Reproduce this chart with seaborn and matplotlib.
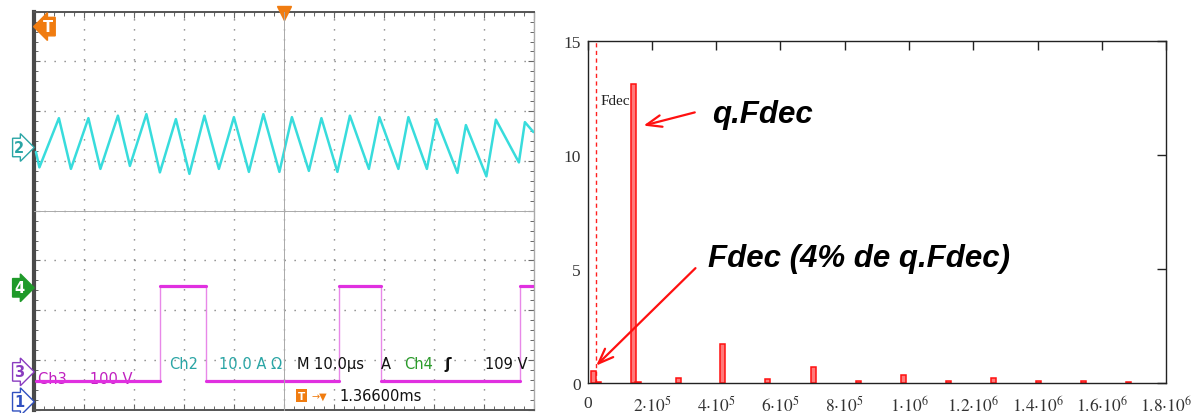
import matplotlib
matplotlib.use('Agg')
import matplotlib.pyplot as plt
import matplotlib.ticker as mticker
import pandas as pd
import seaborn as sns

# ---- oscilloscope traces (time in us, level in divisions) ----
ch2_t = [0.3, 1.0, 4.9, 7.3, 10.8, 13.2, 16.7, 19.1, 22.4, 25.1, 28.3, 31.0, 34.0, 36.9, 39.9,
         42.9, 45.8, 49.0, 51.5, 54.9, 57.4, 60.6, 63.1, 66.9, 69.0, 72.8, 74.8, 78.5, 80.4,
         84.6, 86.3, 90.4, 92.3, 96.9, 98.1, 99.8]
ch2_v = [5.18, 4.87, 5.86, 4.84, 5.86, 4.84, 5.91, 4.90, 5.94, 4.77, 5.84, 4.74, 5.91, 4.84, 5.88,
         4.78, 5.94, 4.78, 5.88, 4.80, 5.86, 4.78, 5.91, 4.84, 5.88, 4.84, 5.88, 4.84, 5.84,
         4.76, 5.72, 4.69, 5.83, 4.97, 5.78, 5.58]

ch4_t = [0.3, 25.2, 25.2, 34.4, 34.4, 61.0, 61.0, 69.4, 69.4, 97.2, 97.2, 99.8]
ch4_v = [0.58, 0.58, 2.48, 2.48, 0.58, 0.58, 2.48, 2.48, 0.58, 0.58, 2.48, 2.48]

# ---- spectrum ----
freq = [18.6e3, 33.5e3, 142e3, 157e3, 282e3, 421e3, 561e3, 703e3, 843e3, 984e3,
        1122e3, 1263e3, 1402e3, 1543e3, 1683e3]
amp = [0.55, 0.07, 13.14, 0.08, 0.25, 1.74, 0.18, 0.72, 0.13, 0.36,
       0.13, 0.24, 0.13, 0.13, 0.08]
fdec_line = 25e3
freq_ticks = [0, 2e5, 4e5, 6e5, 8e5, 1e6, 1.2e6, 1.4e6, 1.6e6, 1.8e6]
freq_labels = ['0', r'$2{\cdot}10^{5}$', r'$4{\cdot}10^{5}$', r'$6{\cdot}10^{5}$',
               r'$8{\cdot}10^{5}$', r'$1{\cdot}10^{6}$', r'$1.2{\cdot}10^{6}$',
               r'$1.4{\cdot}10^{6}$', r'$1.6{\cdot}10^{6}$', r'$1.8{\cdot}10^{6}$']
amp_ticks = [0, 5, 10, 15]

sns.set_theme(style='white')
plt.rcParams['font.family'] = ['DejaVu Sans']
plt.rcParams['mathtext.fontset'] = 'stix'

fig = plt.figure(figsize=(11.92, 4.14), dpi=100)

# ================= oscilloscope =================
scope_rect = [0.02886, 0.008, 0.41946, 0.9614]
ax = fig.add_axes(scope_rect)
ax.set_xlim(0, 100)
ax.set_ylim(0, 8)
ax.xaxis.set_major_locator(mticker.MultipleLocator(10))
ax.yaxis.set_major_locator(mticker.MultipleLocator(1))
ax.xaxis.set_minor_locator(mticker.MultipleLocator(2))
ax.yaxis.set_minor_locator(mticker.MultipleLocator(0.2))
ax.tick_params(which='both', direction='in', top=True, right=True, bottom=True, left=True,
               labelbottom=False, labelleft=False, color='#666')
ax.tick_params(which='major', length=4, width=0.8)
ax.tick_params(which='minor', length=3, width=0.7)
ax.grid(True, which='major', color='#777', lw=1.0, linestyle=(0, (0.9, 6.3)))
for side, (c, w) in {'left': ('#4a4a4a', 3.0), 'top': ('#555', 1.4),
                     'bottom': ('#555', 1.4), 'right': ('#aaa', 1.0)}.items():
    ax.spines[side].set_color(c)
    ax.spines[side].set_linewidth(w)

# centre graticule cross with its own ticks
axc = fig.add_axes(scope_rect, sharex=ax, sharey=ax)
axc.patch.set_visible(False)
for side in ['top', 'right']:
    axc.spines[side].set_visible(False)
for side in ['left', 'bottom']:
    axc.spines[side].set_position(('axes', 0.5))
    axc.spines[side].set_color('#aaa')
    axc.spines[side].set_linewidth(0.7)
axc.tick_params(which='both', direction='inout', length=5, width=0.7, color='#777',
                labelbottom=False, labelleft=False)
axc.grid(False)

# labels drawn under the traces
ax.text(0.7, 0.62, 'Ch3     100 V', color='#c020c0', fontsize=10.5, va='center', zorder=1)

ch2 = pd.DataFrame({'t': ch2_t, 'v': ch2_v})
ch4 = pd.DataFrame({'t': ch4_t, 'v': ch4_v})
ch4['seg'] = (ch4['v'].diff() != 0).cumsum()
sns.lineplot(data=ch2, x='t', y='v', sort=False, estimator=None, color='#38dcdc', lw=1.8,
             ax=ax, zorder=3)
# thin switching edges, thick flat levels
sns.lineplot(data=ch4, x='t', y='v', sort=False, estimator=None, color='#e888e8', lw=1.0,
             ax=ax, zorder=3)
sns.lineplot(data=ch4, x='t', y='v', units='seg', sort=False, estimator=None, color='#e030e0',
             lw=2.3, ax=ax, zorder=3)
ax.set_xlabel('')
ax.set_ylabel('')

txt = dict(fontsize=10.5, va='center', zorder=4)
ax.text(26.9, 0.92, 'Ch2', color='#2aa5a5', **txt)
ax.text(36.9, 0.92, '10.0 A \u03a9', color='#2aa5a5', **txt)
ax.text(52.6, 0.92, 'M 10.0\u00b5s', color='#111', **txt)
ax.text(69.2, 0.92, 'A', color='#111', **txt)
ax.text(73.9, 0.92, 'Ch4', color='#2a9a2a', **txt)
ax.text(82.1, 0.92, '\u0283', color='#111', fontsize=11, fontweight='bold', va='center')
ax.text(90.2, 0.92, '109 V', color='#111', **txt)
ax.text(53.4, 0.28, 'T', color='white', fontsize=7.5, fontweight='bold', va='center', ha='center',
        bbox=dict(boxstyle='square,pad=0.15', fc='#f07c10', ec='none'))
ax.text(55.4, 0.28, '\u2192\u25bc', color='#f07c10', fontsize=7, va='center')
ax.text(61.0, 0.28, '1.36600ms', color='#111', **txt)

# channel / trigger markers
def marker(x, y, s, fc, ec, tc, style='rarrow'):
    ax.text(x, y, s, color=tc, fontsize=10.5, fontweight='bold', ha='center', va='center',
            clip_on=False, zorder=6,
            bbox=dict(boxstyle=f'{style},pad=0.12', fc=fc, ec=ec, lw=1.0))

marker(-3.0, 5.27, '2', 'white', '#2aa5a5', '#2aa5a5')
marker(-3.0, 2.45, '4', '#1f9a2a', '#1f9a2a', 'white')
marker(-3.0, 0.76, '3', 'white', '#8a3cc0', '#8a3cc0')
marker(-3.0, 0.16, '1', 'white', '#3050c0', '#3050c0')
marker(2.8, 7.70, 'T', '#f07c10', '#f07c10', 'white', style='larrow')
ax.plot([50], [7.97], marker='v', ms=10, color='#f07c10', clip_on=False, zorder=6)

# ================= spectrum =================
axf = fig.add_axes([0.49287, 0.07126, 0.48549, 0.82685])
axf.bar(freq, amp, width=16e3, color='#ff7a7a', edgecolor='#ff1010', lw=1.1, zorder=2)
axf.axvline(fdec_line, color='#ff2020', lw=1.0, linestyle=(0, (3, 2.5)), zorder=1)
axf.set_xlim(0, 1.8e6)
axf.set_ylim(0, 15)
axf.set_xticks(freq_ticks)
axf.set_xticklabels(freq_labels)
axf.set_yticks(amp_ticks)
axf.set_yticklabels([str(v) for v in amp_ticks])
axf.tick_params(direction='in', length=6.5, width=1, top=True, right=True, color='#222',
                labelsize=12.5, labelcolor='#333')
axf.tick_params(axis='x', pad=8)
axf.tick_params(axis='y', pad=5)
for lab in axf.get_yticklabels():
    lab.set_family('Liberation Serif')
for lab in axf.get_xticklabels():
    lab.set_family('Liberation Serif')
for sp in axf.spines.values():
    sp.set_color('#222')
    sp.set_linewidth(1.0)
axf.grid(False)

axf.text(40e3, 12.4, 'Fdec', family='Liberation Serif', fontsize=11, color='#222', va='center')

big = dict(family='Liberation Sans', fontweight='bold', fontstyle='italic', fontsize=22.5,
           color='black', va='center')
axf.text(387e3, 11.8, 'q.Fdec', **big)
axf.text(375e3, 5.5, 'Fdec (4% de q.Fdec)', **big)

arrow = dict(arrowstyle='->,head_length=0.9,head_width=0.35', color='#ff1010', lw=1.6)
axf.annotate('', xy=(166e3, 11.27), xytext=(342e3, 11.91), arrowprops=arrow)
axf.annotate('', xy=(21e3, 0.70), xytext=(342e3, 5.14), arrowprops=arrow)

fig.savefig('out.png', dpi=100, facecolor='white')
